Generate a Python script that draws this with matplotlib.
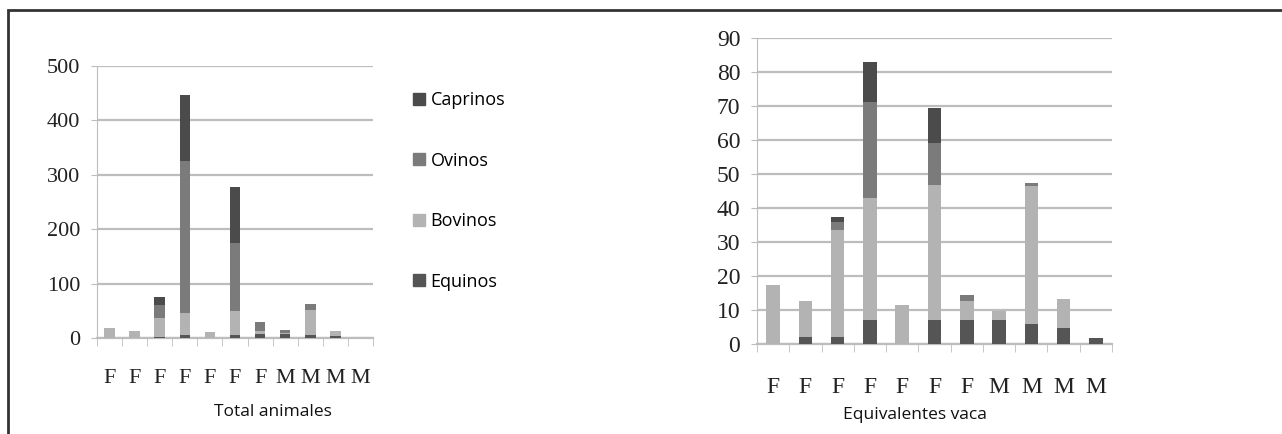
import matplotlib
matplotlib.use("Agg")
import matplotlib.pyplot as plt
from matplotlib.patches import Rectangle, Patch

CAPRI = "#4b4b4b"
OVI   = "#7b7b7b"
BOVI  = "#b3b3b3"
EQUI  = "#555555"
GRID  = "#bdbdbd"

labels = ["F", "F", "F", "F", "F", "F", "F", "M", "M", "M", "M"]

# Total animales
tot_equinos  = [0, 0, 2, 6, 0, 5, 7, 8, 6, 4, 0]
tot_bovinos  = [18, 13, 35, 40, 11, 45, 5, 2, 46, 9, 0]
tot_ovinos   = [0, 0, 23, 280, 0, 125, 18, 4, 10, 0, 0]
tot_caprinos = [0, 0, 15, 120, 0, 103, 0, 0, 0, 0, 0]

# Equivalentes vaca
eq_equinos  = [0, 2, 2, 7, 0, 7, 7, 7, 5.8, 4.7, 1.8]
eq_bovinos  = [17.5, 10.7, 31.6, 35.8, 11.6, 39.8, 5.6, 2.8, 40.7, 8.5, 0]
eq_ovinos   = [0, 0, 2.4, 28.4, 0, 12.2, 1.7, 0, 1.0, 0, 0]
eq_caprinos = [0, 0, 1.4, 11.7, 0, 10.5, 0, 0, 0, 0, 0]

W, H = 1282, 434
fig = plt.figure(figsize=(W / 100, H / 100), dpi=100)
fig.patch.set_facecolor("white")

# outer frame
fig.add_artist(Rectangle((8 / W, -0.1), 1.2, 1 - 10 / H + 0.1, transform=fig.transFigure,
                         fill=False, edgecolor="#333333", linewidth=2.0))


def stacked(ax, eq, bo, ov, ca, ymax, step, label_pad, fs):
    x = range(len(labels))
    b1 = eq
    b2 = [a + b for a, b in zip(b1, bo)]
    b3 = [a + b for a, b in zip(b2, ov)]
    ax.bar(x, eq, 0.42, color=EQUI, zorder=3)
    ax.bar(x, bo, 0.42, bottom=b1, color=BOVI, zorder=3)
    ax.bar(x, ov, 0.42, bottom=b2, color=OVI, zorder=3)
    ax.bar(x, ca, 0.42, bottom=b3, color=CAPRI, zorder=3)
    ax.set_xlim(-0.5, len(labels) - 0.5)
    ax.set_ylim(0, ymax)
    ax.set_yticks(range(0, ymax + 1, step))
    ax.yaxis.grid(True, color=GRID, linewidth=1.6, zorder=0)
    ax.set_axisbelow(True)
    for s in ["top", "right"]:
        ax.spines[s].set_visible(False)
    ax.spines["left"].set_color(GRID)
    ax.spines["bottom"].set_color(GRID)
    ax.spines["bottom"].set_linewidth(1.6)
    ax.set_xticks(list(x))
    ax.set_xticklabels(labels, fontfamily="Liberation Serif", fontsize=fs, color="#222222")
    ax.set_xticks([i - 0.5 for i in range(len(labels) + 1)], minor=True)
    ax.tick_params(axis="x", which="major", length=0, pad=label_pad)
    ax.tick_params(axis="x", which="minor", length=6, color=GRID, direction="out")
    ax.tick_params(axis="y", length=4, color=GRID, labelsize=fs, pad=8, labelcolor="#222222")
    for t in ax.get_yticklabels():
        t.set_fontfamily("Liberation Serif")


ax1 = fig.add_axes([97 / W, (H - 338) / H, 276 / W, 272 / H])
stacked(ax1, tot_equinos, tot_bovinos, tot_ovinos, tot_caprinos, 500, 100, 22, 16)

ax2 = fig.add_axes([757 / W, (H - 344) / H, 355 / W, 306 / H])
stacked(ax2, eq_equinos, eq_bovinos, eq_ovinos, eq_caprinos, 90, 10, 24, 17)

handles = [Patch(color=CAPRI), Patch(color=OVI), Patch(color=BOVI), Patch(color=EQUI)]
fig.legend(handles, ["Caprinos", "Ovinos", "Bovinos", "Equinos"],
           loc="upper left", bbox_to_anchor=(397 / W, 1 - 75 / H), frameon=False,
           handlelength=0.65, handleheight=0.65, handletextpad=0.3, labelspacing=2.35,
           prop={"family": "Open Sans", "size": 13})

fig.text(273 / W, 1 - 412 / H, "Total animales", ha="center", va="center",
         fontfamily="Open Sans", fontsize=12.5, color="#111111")
fig.text(915 / W, 1 - 415 / H, "Equivalentes vaca", ha="center", va="center",
         fontfamily="Open Sans", fontsize=12.5, color="#111111")

fig.savefig("out.png", dpi=100)
